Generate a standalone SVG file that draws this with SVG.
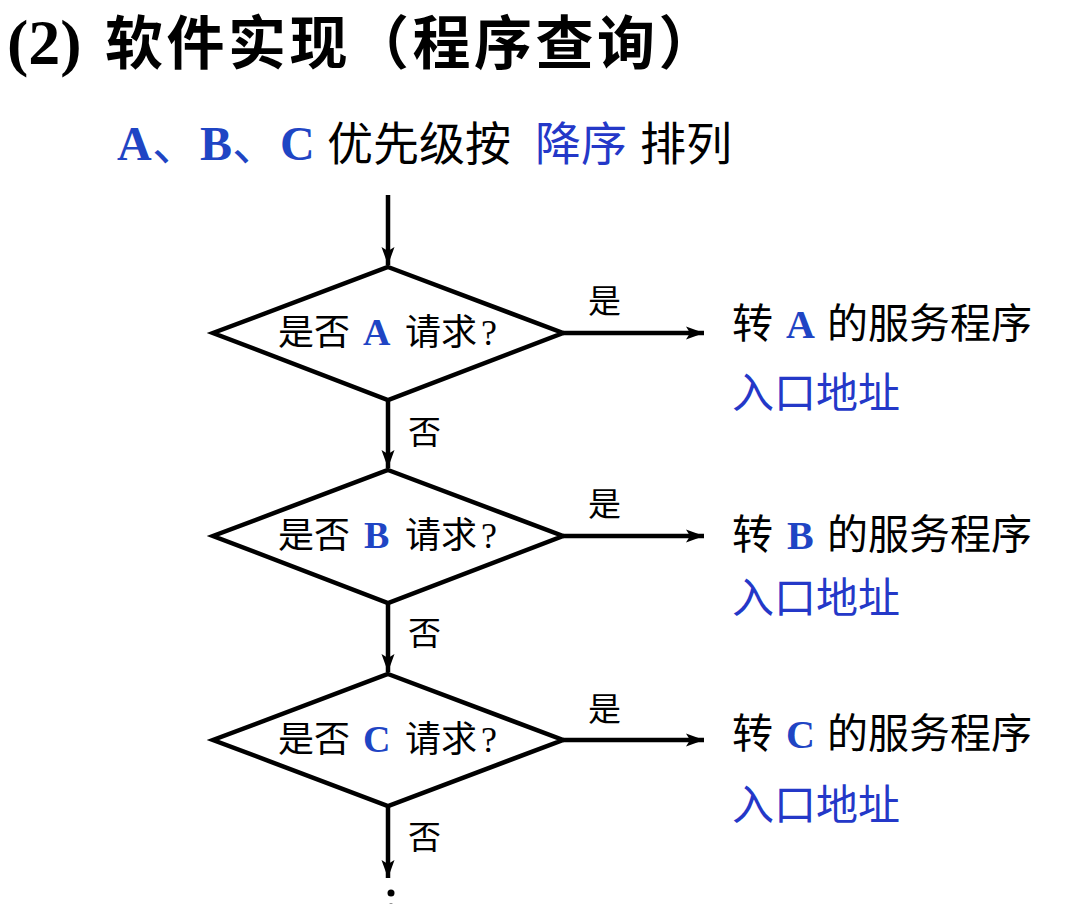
<svg xmlns="http://www.w3.org/2000/svg" width="1071" height="904" viewBox="0 0 1071 904">
<style>
.cjk{font-family:"Noto Sans CJK SC","Noto Sans",sans-serif;}
.lat{font-family:"Liberation Serif","Noto Sans CJK SC",serif;font-weight:bold;}
.blk{fill:#000;}
.blue{fill:#1f45c4;}
.blue2{fill:#2438c8;}
.shape{fill:#fff;stroke:#000;stroke-width:4.5;stroke-linejoin:miter;}
.conn{fill:none;stroke:#000;stroke-width:4.5;}
.dtext{font-size:36px;}
.yes{font-size:33px;}
.right{font-size:41px;}
</style>
<defs>
<marker id="ah" markerUnits="userSpaceOnUse" markerWidth="20" markerHeight="16" viewBox="0 0 20 16" refX="18" refY="8" orient="auto">
<path d="M0,1.5 L18,8 L0,14.5 L4,8 Z" fill="#000"/>
</marker>
</defs>
<rect width="1071" height="904" fill="#fff"/>

<g id="title">
<text x="7" y="64" class="lat blk" font-size="64">(2)</text>
<text x="105" y="64" class="cjk blk" font-size="58" font-weight="bold" letter-spacing="3.5">软件实现（程序查询）</text>
</g>

<g id="subtitle">
<text y="160" font-size="48"><tspan x="117" class="lat blue">A</tspan><tspan x="152" class="cjk blue">、</tspan><tspan x="200" class="lat blue">B</tspan><tspan x="232" class="cjk blue">、</tspan><tspan x="280" class="lat blue">C</tspan></text>
<text y="160" font-size="46" class="cjk"><tspan x="327" class="blk">优先级按</tspan><tspan x="535" class="blue2">降序</tspan><tspan x="640" class="blk">排列</tspan></text>
</g>

<g id="connectors">
<line x1="388" y1="195" x2="388" y2="265" class="conn" marker-end="url(#ah)"/>
<line x1="388" y1="400" x2="388" y2="468" class="conn" marker-end="url(#ah)"/>
<line x1="388" y1="603" x2="388" y2="672" class="conn" marker-end="url(#ah)"/>
<line x1="388" y1="806" x2="388" y2="878" class="conn" marker-end="url(#ah)"/>
<line x1="563" y1="333" x2="704" y2="333" class="conn" marker-end="url(#ah)"/>
<line x1="563" y1="536" x2="704" y2="536" class="conn" marker-end="url(#ah)"/>
<line x1="563" y1="740" x2="704" y2="740" class="conn" marker-end="url(#ah)"/>
<text x="588" y="313" class="cjk blk yes">是</text>
<text x="588" y="516" class="cjk blk yes">是</text>
<text x="588" y="721" class="cjk blk yes">是</text>
<text x="408" y="444" class="cjk blk yes">否</text>
<text x="408" y="645" class="cjk blk yes">否</text>
<text x="408" y="849" class="cjk blk yes">否</text>
<circle cx="391" cy="893" r="3.5" fill="#000"/>
<circle cx="391" cy="907" r="3.5" fill="#000"/>
</g>

<g id="decisionA">
<polygon points="388,267 563,333 388,400 213,333" class="shape"/>
<text y="345" class="dtext"><tspan x="278" class="cjk blk">是否</tspan><tspan x="363" class="lat blue" font-size="38">A</tspan><tspan x="405" class="cjk blk">请求</tspan><tspan x="481" font-family="Liberation Serif, serif" class="blk">?</tspan></text>
</g>
<g id="decisionB">
<polygon points="388,470 563,536 388,603 213,536" class="shape"/>
<text y="548" class="dtext"><tspan x="278" class="cjk blk">是否</tspan><tspan x="364" class="lat blue" font-size="38">B</tspan><tspan x="405" class="cjk blk">请求</tspan><tspan x="481" font-family="Liberation Serif, serif" class="blk">?</tspan></text>
</g>
<g id="decisionC">
<polygon points="388,674 563,740 388,806 213,740" class="shape"/>
<text y="752" class="dtext"><tspan x="278" class="cjk blk">是否</tspan><tspan x="363" class="lat blue" font-size="38">C</tspan><tspan x="405" class="cjk blk">请求</tspan><tspan x="481" font-family="Liberation Serif, serif" class="blk">?</tspan></text>
</g>

<g id="targetA">
<text y="338" class="right"><tspan x="732" class="cjk blk">转</tspan><tspan x="786" class="lat blue" font-size="40">A</tspan><tspan x="827" class="cjk blk">的服务程序</tspan></text>
<text x="732" y="408" class="cjk blue2" font-size="42">入口地址</text>
</g>
<g id="targetB">
<text y="549" class="right"><tspan x="732" class="cjk blk">转</tspan><tspan x="787" class="lat blue" font-size="40">B</tspan><tspan x="827" class="cjk blk">的服务程序</tspan></text>
<text x="732" y="613" class="cjk blue2" font-size="42">入口地址</text>
</g>
<g id="targetC">
<text y="748" class="right"><tspan x="732" class="cjk blk">转</tspan><tspan x="786" class="lat blue" font-size="40">C</tspan><tspan x="827" class="cjk blk">的服务程序</tspan></text>
<text x="732" y="820" class="cjk blue2" font-size="42">入口地址</text>
</g>
</svg>
